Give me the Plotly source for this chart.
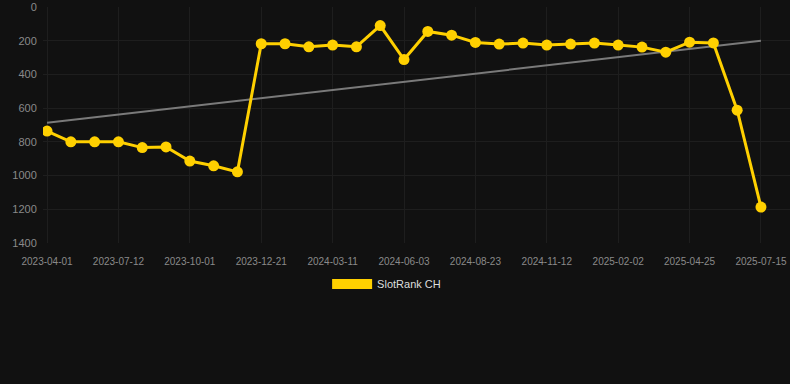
import numpy as np
import plotly.graph_objects as go

dates = [
    "2023-04-01", "2023-05-05", "2023-06-08", "2023-07-12", "2023-08-08",
    "2023-09-04", "2023-10-01", "2023-10-28", "2023-11-24", "2023-12-21",
    "2024-01-17", "2024-02-13", "2024-03-11", "2024-04-08", "2024-05-06",
    "2024-06-03", "2024-06-30", "2024-07-27", "2024-08-23", "2024-09-19",
    "2024-10-16", "2024-11-12", "2024-12-09", "2025-01-06", "2025-02-02",
    "2025-03-01", "2025-03-28", "2025-04-25", "2025-05-22", "2025-06-18",
    "2025-07-15",
]
ranks = [
    736, 800, 800, 800, 834, 830, 914, 942, 978, 218,
    218, 236, 226, 236, 110, 312, 145, 167, 210, 220,
    214, 226, 220, 214, 226, 238, 268, 209, 213, 612,
    1187,
]
tick_labels = dates[::3]
series_name = "SlotRank CH"

idx = np.arange(len(ranks))
slope, intercept = np.polyfit(idx, ranks, 1)
trend = [intercept, intercept + slope * idx[-1]]

fig = go.Figure()
fig.add_trace(go.Scatter(
    x=[dates[0], dates[-1]], y=trend, mode="lines",
    line=dict(color="#7a7a7a", width=2), showlegend=False, hoverinfo="skip",
))
fig.add_trace(go.Scatter(
    x=dates, y=ranks, mode="lines+markers", name=series_name,
    line=dict(color="#FFD000", width=3),
    marker=dict(color="#FFD000", size=11),
    showlegend=False,
))
fig.add_trace(go.Scatter(
    x=[None], y=[None], mode="lines", name=series_name,
    line=dict(color="#FFD000", width=12),
))

fig.update_layout(
    width=790, height=384,
    paper_bgcolor="#111111", plot_bgcolor="#111111",
    margin=dict(l=43, r=0, t=7, b=141),
    font=dict(family="Liberation Sans, Arial, sans-serif", color="#8a8a8a"),
    showlegend=True,
    legend=dict(orientation="h", x=0.46, xanchor="center", y=-0.112, yanchor="top",
                itemwidth=40,
                font=dict(size=11, color="#dddddd"), bgcolor="rgba(0,0,0,0)"),
)
fig.update_xaxes(
    type="category", categoryorder="array", categoryarray=dates,
    range=[-0.17, 31.22],
    tickmode="array", tickvals=tick_labels, ticktext=tick_labels,
    tickfont=dict(size=10, color="#8a8a8a"),
    showgrid=True, gridcolor="#1e1e1e", gridwidth=1,
    zeroline=False, showline=False, ticks="outside", ticklen=9,
    tickcolor="rgba(0,0,0,0)",
)
fig.update_yaxes(
    range=[1400, 0], tickvals=[0, 200, 400, 600, 800, 1000, 1200, 1400],
    tickfont=dict(size=11, color="#8a8a8a"),
    showgrid=True, gridcolor="#1e1e1e", gridwidth=1,
    zeroline=False, showline=False, ticks="outside", ticklen=3,
    tickcolor="rgba(0,0,0,0)",
)

fig.write_html(
    "out.html",
    config={"displayModeBar": False},
    post_script="document.body.style.margin='0';document.body.style.background='#111111';",
)
